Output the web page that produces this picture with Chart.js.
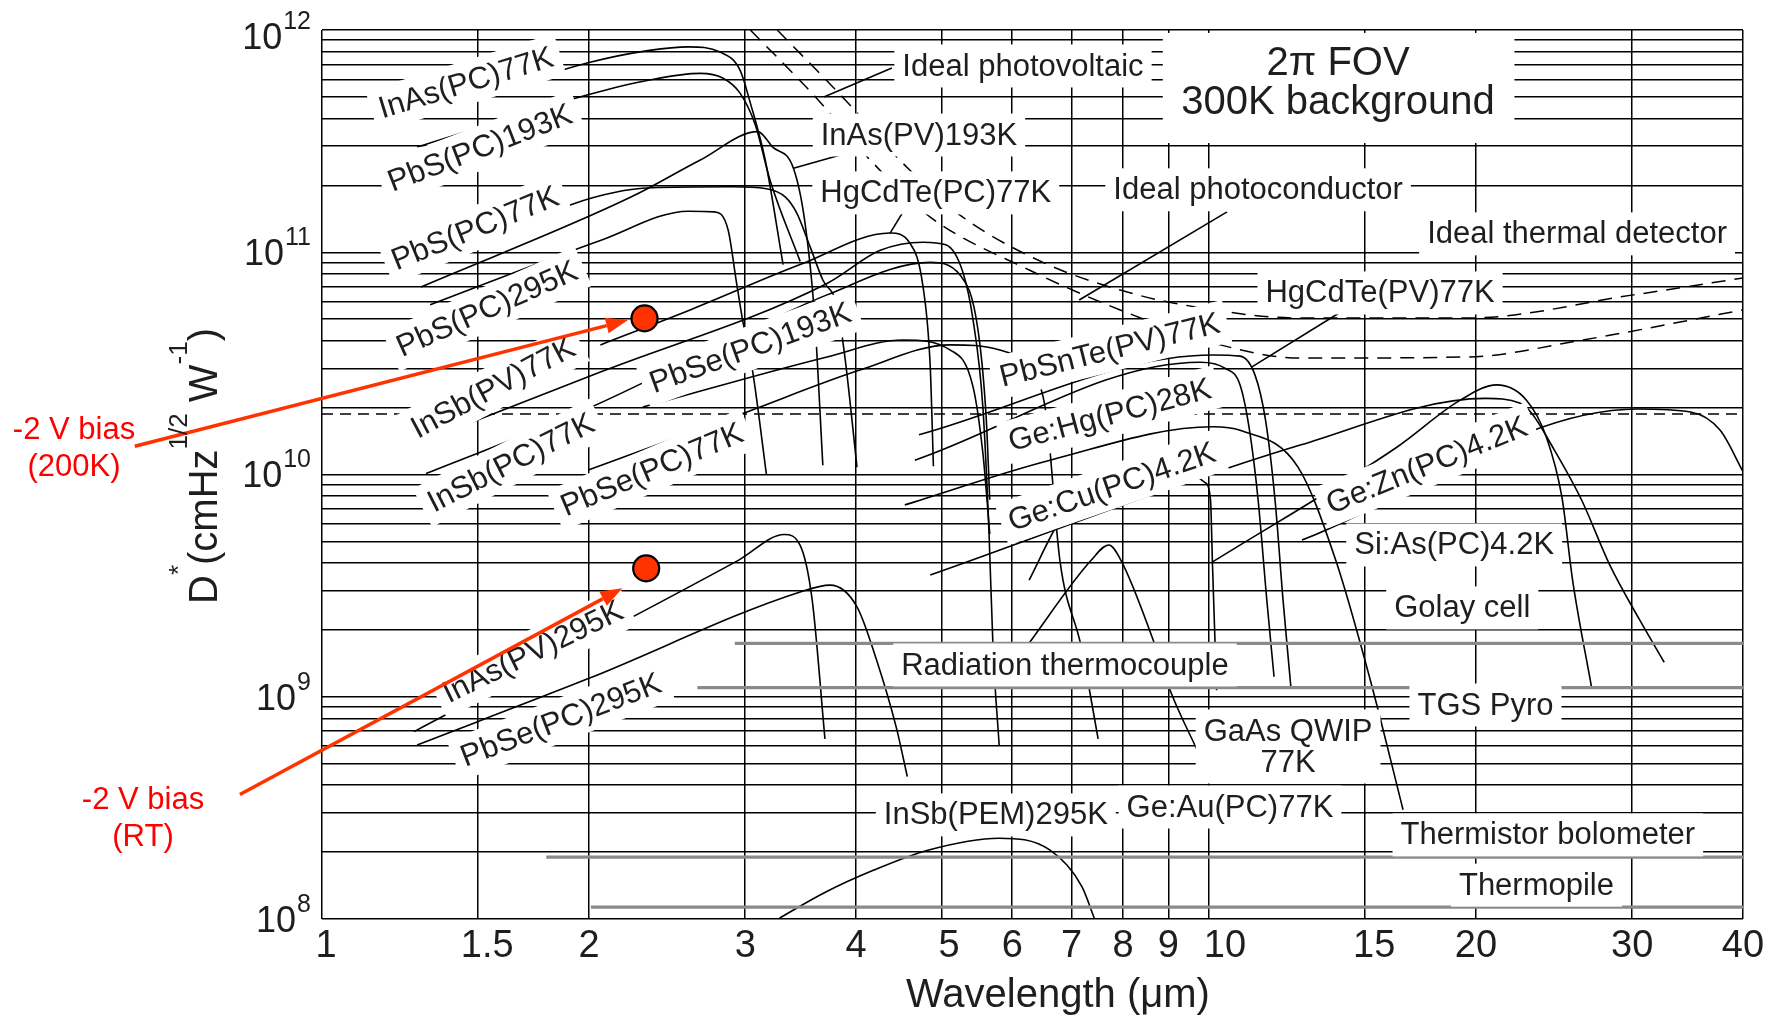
<!DOCTYPE html>
<html>
<head>
<meta charset="utf-8">
<script src="https://cdn.jsdelivr.net/npm/chart.js@4.4.1/dist/chart.umd.min.js"></script>
<style>
  html, body { margin: 0; padding: 0; background: #fff; }
  canvas { display: block; }
</style>
</head>
<body>
<canvas id="chart" width="1783" height="1021"></canvas>
<script>
// ---- axis ticks ----
const wavelengthTicks = [1, 1.5, 2, 3, 4, 5, 6, 7, 8, 9, 10, 15, 20, 30, 40];
const dstarDecades = [8, 9, 10, 11, 12];
const dstarGrid = [];
for (let e = 8; e < 12; e++) for (let m = 1; m < 10; m++) dstarGrid.push(m * Math.pow(10, e));
dstarGrid.push(1e12);

// ---- detector curves: [wavelength (um), D* (cm Hz^1/2 W^-1)] ----
const inasPC77 = [[1.28,4.0e11],[1.99,7.1e11],[2.34,8.1e11],[2.59,8.4e11],[2.81,7.96e11],[2.96,6.6e11],[3.04,4.7e11],[3.16,2.6e11],[3.31,8.8e10]];
const pbsPC193 = [[1.28,2.98e11],[1.99,5.1e11],[2.34,5.96e11],[2.67,6.38e11],[2.83,6.08e11],[2.96,5.2e11],[3.08,3.74e11],[3.20,2.11e11],[3.46,9.1e10]];
const inasPV193 = [[1.293,6.98e10],[2.236,1.78e11],[2.67,2.6e11],[3.10,3.49e11],[3.22,2.98e11],[3.40,2.39e11],[3.50,1.4e11],[3.59,5.33e10],[3.67,1.1e10]];
const pbsPC77 = [[1.28,8.5e10],[2.35,1.95e11],[2.9,1.97e11],[3.17,1.93e11],[3.33,1.77e11],[3.43,1.5e11],[3.55,1.06e11],[3.67,7.5e10],[3.81,5.7e10],[3.89,3.27e10],[4.01,1.08e10]];
const pbsPC295 = [[1.324,5.8e10],[2.06,1.13e11],[2.59,1.53e11],[2.77,1.52e11],[2.87,1.26e11],[2.93,7.5e10],[2.98,4.95e10],[3.06,2.87e10],[3.17,1.0e10]];
const hgcdtePC77 = [[2.06,3.83e10],[2.6,5.5e10],[3.46,8.8e10],[4.37,1.22e11],[4.6,1.1e11],[4.76,7.0e10],[4.85,3.05e10],[4.89,1.09e10]];
const insbPV77 = [[1.28,1.38e10],[2.06,2.89e10],[3.71,7.24e10],[4.26,1.02e11],[4.76,1.11e11],[5.05,1.08e11],[5.28,8.1e10],[5.42,4.96e10],[5.56,2.01e10],[5.65,5.4e9],[5.71,1.62e9],[5.80,6.07e8]];
const insbPC77 = [[1.31,1.01e10],[2.0,1.99e10],[2.67,3.45e10],[3.71,6.43e10],[4.85,9.0e10],[5.24,7.9e10],[5.49,4.47e10],[5.61,1.76e10],[5.66,7.7e9]];
const pbsePC193 = [[2.30,2.01e10],[3.71,3.38e10],[4.52,4.03e10],[5.11,3.63e10],[5.42,2.48e10],[5.56,1.25e10],[5.62,7.7e9],[5.66,5.4e9]];
const pbsePC77 = [[2.0,1.05e10],[2.98,1.88e10],[4.04,2.95e10],[5.11,3.83e10],[5.81,3.63e10],[6.28,2.95e10],[6.55,1.9e10],[6.79,4.12e9],[7.18,1.67e9],[7.5,6.46e8]];
const hgcdtePV77 = [[4.71,1.51e10],[10.1,3.45e10],[10.84,3.41e10],[11.27,2.8e10],[11.58,1.76e10],[11.87,7.7e9],[12.12,2.72e9],[12.37,1.1e9]];
const pbsnteV77 = [[4.66,1.16e10],[9.77,3.2e10],[10.42,3.01e10],[10.84,2.53e10],[11.11,1.58e10],[11.36,7.7e9],[11.62,2.72e9],[11.84,1.23e9]];
const geHgPC28 = [[4.54,7.3e9],[6.62,1.16e10],[10.1,1.64e10],[10.84,1.58e10],[12.6,1.08e10],[13.9,4.1e9],[15.2,1.19e9],[16.55,3.1e8]];
const geCuPC42 = [[4.85,3.53e9],[12.7,1.36e10],[20.5,2.2e10],[22.4,2.1e10],[23.1,1.89e10],[24.4,1.33e10],[26.3,7.7e9],[28.3,3.92e9],[30.6,2.21e9],[32.6,1.43e9]];
const siAsPC42 = [[10.05,4.0e9],[16.3,1.33e10],[19.2,2.16e10],[21.1,2.53e10],[22.8,2.16e10],[24.0,1.48e10],[25.0,7.9e9],[25.7,3.35e9],[27.0,1.1e9]];
const geZnPC42 = [[12.73,5.07e9],[30.4,1.97e10],[34.9,1.91e10],[37.7,1.58e10],[40,1.03e10]];
const gaasQWIP77 = [[6.27,3.35e9],[6.79,6.24e9],[7.37,9.5e9],[8.6,1.02e10],[9.5,1.0e10],[9.9,9.2e9],[10.04,7.7e9],[10.09,4.0e9],[10.2,1.07e9]];
const geAuPC77 = [[6.22,1.67e9],[7.36,4.1e9],[7.71,4.82e9],[7.96,4.1e9],[8.71,1.67e9],[9.04,1.07e9],[9.72,5.64e8]];
const inasPV295 = [[1.27,6.97e8],[2.95,4.12e9],[3.32,5.37e9],[3.46,4.8e9],[3.57,2.72e9],[3.69,6.46e8]];
const pbsePC295 = [[1.28,6.07e8],[2.0,1.21e9],[3.46,2.96e9],[3.74,3.18e9],[4.01,2.54e9],[4.22,1.46e9],[4.44,7.3e8],[4.57,4.37e8]];
const insbPEM295 = [[3.28,1.01e8],[3.68,1.31e8],[4.19,1.66e8],[4.82,2.04e8],[5.80,2.31e8],[6.62,2.04e8],[7.19,1.4e8],[7.43,1.0e8]];

// ideal background-limited detectors (2pi FOV, 300 K background)
const idealPV = [[3.26,1e12],[3.89,4.84e11],[4.48,2.6e11],[5.24,1.47e11],[6.5,9.0e10],[7.94,6.76e10],[9.35,5.8e10],[12.7,5.06e10],[19.6,5.06e10],[30.1,6.43e10],[40,7.66e10]];
const idealPC = [[3.04,1e12],[3.6,5.0e11],[4.15,2.6e11],[4.85,1.44e11],[6.28,8.3e10],[7.94,5.5e10],[10.3,3.83e10],[12.7,3.34e10],[19.6,3.38e10],[26.4,4.03e10],[40,5.5e10]];
const idealThermal = [[1,1.87e10],[40,1.87e10]];

// thermal detectors (flat response)
const golayCell = [[2.92,1.74e9],[40,1.74e9]];
const thermocouple = [[2.65,1.1e9],[40,1.1e9]];
const thermistor = [[1.79,1.9e8],[40,1.9e8]];
const thermopile = [[2.01,1.13e8],[40,1.13e8]];

// measured device points (-2 V bias at 200 K and at room temperature)
const measured = [[2.31,5.04e10],[2.32,3.78e9]];

// ---- text annotations placed in data coordinates ----
const curveLabels = [
  {t:'InAs(PC)77K', lam:1.453, d:5.78e11, rot:-17},
  {t:'PbS(PC)193K', lam:1.507, d:2.94e11, rot:-21},
  {t:'PbS(PC)77K', lam:1.488, d:1.28e11, rot:-22},
  {t:'PbS(PC)295K', lam:1.535, d:5.56e10, rot:-24},
  {t:'InSb(PV)77K', lam:1.559, d:2.45e10, rot:-28},
  {t:'InSb(PC)77K', lam:1.633, d:1.13e10, rot:-27},
  {t:'PbSe(PC)193K', lam:3.04, d:3.71e10, rot:-20},
  {t:'PbSe(PC)77K', lam:2.355, d:1.05e10, rot:-23},
  {t:'InAs(PV)295K', lam:1.729, d:1.59e9, rot:-26},
  {t:'PbSe(PC)295K', lam:1.859, d:7.85e8, rot:-21},
  {t:'PbSnTe(PV)77K', lam:7.73, d:3.63e10, rot:-14},
  {t:'Ge:Hg(PC)28K', lam:7.73, d:1.85e10, rot:-15},
  {t:'Ge:Cu(PC)4.2K', lam:7.77, d:8.79e9, rot:-19},
  {t:'Ge:Zn(PC)4.2K', lam:17.6, d:1.1e10, rot:-22},
  {t:'Si:As(PC)4.2K', lam:18.9, d:4.82e9, rot:0},
  {t:'Golay cell', lam:19.3, d:2.51e9, rot:0},
  {t:'Radiation thermocouple', lam:6.88, d:1.39e9, rot:0},
  {t:'TGS Pyro', lam:20.5, d:9.18e8, rot:0},
  {t:['GaAs QWIP','77K'], lam:12.28, d:5.97e8, rot:0},
  {t:'InSb(PEM)295K', lam:5.75, d:2.94e8, rot:0},
  {t:'Ge:Au(PC)77K', lam:10.56, d:3.19e8, rot:0},
  {t:'Thermistor bolometer', lam:24.1, d:2.39e8, rot:0},
  {t:'Thermopile', lam:23.4, d:1.42e8, rot:0},
  {t:'Ideal photovoltaic', lam:6.17, d:6.89e11, rot:0},
  {t:'InAs(PV)193K', lam:4.71, d:3.37e11, rot:0},
  {t:'HgCdTe(PC)77K', lam:4.92, d:1.85e11, rot:0},
  {t:'Ideal photoconductor', lam:11.36, d:1.91e11, rot:0},
  {t:'Ideal thermal detector', lam:26.0, d:1.21e11, rot:0},
  {t:'HgCdTe(PV)77K', lam:15.59, d:6.56e10, rot:0}
];
const leaderLines = [
  [[4.39,6.74e11],[3.68,5.0e11]],
  [[3.94,2.82e11],[3.40,2.39e11]],
  [[4.52,1.52e11],[4.37,1.22e11]],
  [[10.48,1.52e11],[7.14,6.1e10]],
  [[14.3,5.6e10],[11.18,3.05e10]]
];
const fovBox = {lam0: 8.87, lam1: 22.1, d0: 9.7e11, d1: 3.1e11};
const fovText = [
  {t:'2\u03C0 FOV', lam:13.98, d:6.27e11},
  {t:'300K background', lam:13.98, d:4.19e11}
];
const biasArrows = [
  {from:[0.615,1.34e10], to:[2.213,4.95e10]},
  {from:[0.808,3.63e8], to:[2.181,3.08e9]}
];
const biasText = [
  {lines:['-2 V bias','(200K)'], x:74, y:430},
  {lines:['-2 V bias','(RT)'], x:143, y:800}
];
// small horizontal nudges of some wavelength tick labels (px)
const tickNudge = {1: 4, 1.5: 9, 5: 7, 10: 16, 15: 9};

const FONT = '"Liberation Sans", Arial, Helvetica, sans-serif';
const TEXT = '#1e1e1e';
const toXY = arr => arr.map(([x, y]) => ({x, y}));

function curve(data, extra) {
  return Object.assign({
    data: toXY(data), borderColor: '#000', borderWidth: 1.6, pointRadius: 0,
    fill: false, cubicInterpolationMode: 'monotone'
  }, extra || {});
}
const dashed = {borderDash: [14, 9], borderWidth: 1.5, cubicInterpolationMode: 'monotone'};
const thermal = {borderColor: '#8a8a8a', borderWidth: 3.2, tension: 0};

const datasets = [
  curve(golayCell, thermal), curve(thermocouple, thermal), curve(thermistor, thermal), curve(thermopile, thermal),
  curve(idealPV, dashed), curve(idealPC, dashed), curve(idealThermal, {borderDash: [11, 7], borderWidth: 1.5, tension: 0}),
  curve(inasPC77), curve(pbsPC193), curve(inasPV193), curve(pbsPC77), curve(pbsPC295),
  curve(hgcdtePC77), curve(insbPV77), curve(insbPC77), curve(pbsePC193), curve(pbsePC77),
  curve(hgcdtePV77), curve(pbsnteV77), curve(geHgPC28), curve(geCuPC42), curve(siAsPC42), curve(geZnPC42),
  curve(gaasQWIP77), curve(geAuPC77), curve(inasPV295), curve(pbsePC295), curve(insbPEM295)
];

const px = (chart, lam, d) => ({x: chart.scales.x.getPixelForValue(lam), y: chart.scales.y.getPixelForValue(d)});

const annotations = {
  id: 'annotations',
  afterDatasetsDraw(chart) {
    const ctx = chart.ctx;
    // leader lines
    ctx.save();
    ctx.strokeStyle = '#000';
    ctx.lineWidth = 1.6;
    leaderLines.forEach(([a, b]) => {
      const p = px(chart, a[0], a[1]), q = px(chart, b[0], b[1]);
      ctx.beginPath(); ctx.moveTo(p.x, p.y); ctx.lineTo(q.x, q.y); ctx.stroke();
    });
    ctx.restore();

    // labels with white backing
    curveLabels.forEach(L => {
      const p = px(chart, L.lam, L.d);
      const lines = Array.isArray(L.t) ? L.t : [L.t];
      ctx.save();
      ctx.translate(p.x, p.y);
      ctx.rotate((L.rot || 0) * Math.PI / 180);
      ctx.font = '31px ' + FONT;
      const w = Math.max(...lines.map(s => ctx.measureText(s).width));
      const lh = 31, h = lines.length * lh;
      ctx.fillStyle = '#fff';
      ctx.fillRect(-w / 2 - 8, -h / 2 - 6, w + 16, h + 12);
      ctx.fillStyle = TEXT;
      ctx.textAlign = 'center';
      ctx.textBaseline = 'middle';
      lines.forEach((s, i) => ctx.fillText(s, 0, -h / 2 + lh * (i + 0.5) + 1));
      ctx.restore();
    });

    // field-of-view note
    const b0 = px(chart, fovBox.lam0, fovBox.d0), b1 = px(chart, fovBox.lam1, fovBox.d1);
    ctx.save();
    ctx.fillStyle = '#fff';
    ctx.fillRect(b0.x, b0.y, b1.x - b0.x, b1.y - b0.y);
    ctx.fillStyle = TEXT;
    ctx.font = '40px ' + FONT;
    ctx.textAlign = 'center';
    ctx.textBaseline = 'alphabetic';
    fovText.forEach(T => { const p = px(chart, T.lam, T.d); ctx.fillText(T.t, p.x, p.y); });
    ctx.restore();

    // bias arrows
    ctx.save();
    ctx.strokeStyle = '#ff3300';
    ctx.fillStyle = '#ff3300';
    ctx.lineWidth = 3.5;
    biasArrows.forEach(A => {
      const p = px(chart, A.from[0], A.from[1]), q = px(chart, A.to[0], A.to[1]);
      const ang = Math.atan2(q.y - p.y, q.x - p.x);
      const hl = 22, hw = 8;
      const bx = q.x - hl * Math.cos(ang), by = q.y - hl * Math.sin(ang);
      ctx.beginPath(); ctx.moveTo(p.x, p.y); ctx.lineTo(bx, by); ctx.stroke();
      ctx.beginPath();
      ctx.moveTo(q.x, q.y);
      ctx.lineTo(bx + hw * Math.sin(ang), by - hw * Math.cos(ang));
      ctx.lineTo(bx - hw * Math.sin(ang), by + hw * Math.cos(ang));
      ctx.closePath(); ctx.fill();
    });
    ctx.fillStyle = '#ff0000';
    ctx.font = '31px ' + FONT;
    ctx.textAlign = 'center';
    ctx.textBaseline = 'middle';
    biasText.forEach(T => T.lines.forEach((s, i) => ctx.fillText(s, T.x, T.y + i * 37)));
    ctx.restore();

    // measured points drawn on top
    ctx.save();
    measured.forEach(([l, d]) => {
      const p = px(chart, l, d);
      ctx.beginPath(); ctx.arc(p.x, p.y, 13, 0, Math.PI * 2);
      ctx.fillStyle = '#ff3300'; ctx.fill();
      ctx.lineWidth = 2.2; ctx.strokeStyle = '#000'; ctx.stroke();
    });
    ctx.restore();
  },
  afterDraw(chart) {
    const ctx = chart.ctx, area = chart.chartArea;
    const sx = chart.scales.x, sy = chart.scales.y;
    ctx.save();
    ctx.fillStyle = TEXT;
    // wavelength tick labels
    ctx.font = '38px ' + FONT;
    ctx.textAlign = 'center';
    ctx.textBaseline = 'middle';
    wavelengthTicks.forEach(v => ctx.fillText(String(v), sx.getPixelForValue(v) + (tickNudge[v] || 0), area.bottom + 28));
    // D* decade labels with superscript exponent
    dstarDecades.forEach(e => {
      const y = sy.getPixelForValue(Math.pow(10, e)) + (e === 12 ? 9 : 3);
      const right = area.left - 11;
      ctx.font = '25px ' + FONT;
      const sw = ctx.measureText(String(e)).width;
      ctx.textAlign = 'left';
      ctx.fillText(String(e), right - sw, y - 17);
      ctx.textAlign = 'right';
      ctx.font = '36px ' + FONT;
      ctx.fillText('10', right - sw - 1, y);
    });
    // x title
    ctx.font = '40px ' + FONT;
    ctx.textAlign = 'center';
    ctx.textBaseline = 'alphabetic';
    ctx.fillText('Wavelength (\u03BCm)', 1058, area.bottom + 88);
    // y title, rotated, with superscripts
    const parts = [
      {t:'D', s:40, up:0}, {t:'*', s:26, up:30}, {t:'(cmHz', s:40, up:0},
      {t:'1/2', s:26, up:30}, {t:' W', s:40, up:0}, {t:'-1', s:26, up:30}, {t:')', s:40, up:0}
    ];
    let total = 0;
    parts.forEach(p => { ctx.font = p.s + 'px ' + FONT; p.w = ctx.measureText(p.t).width; total += p.w; });
    ctx.translate(area.left - 105, 466);
    ctx.rotate(-Math.PI / 2);
    ctx.textAlign = 'left';
    let x0 = -total / 2;
    parts.forEach(p => { ctx.font = p.s + 'px ' + FONT; ctx.fillText(p.t, x0, -p.up); x0 += p.w; });
    ctx.restore();
  }
};

new Chart(document.getElementById('chart'), {
  type: 'line',
  data: { datasets },
  options: {
    responsive: false,
    animation: false,
    devicePixelRatio: 1,
    layout: { padding: { left: 322, right: 40, top: 30, bottom: 102 } },
    plugins: { legend: { display: false }, tooltip: { enabled: false } },
    scales: {
      x: {
        type: 'logarithmic', min: 1, max: 40,
        afterBuildTicks: s => { s.ticks = wavelengthTicks.map(v => ({value: v})); },
        afterFit: s => { s.height = 0; },
        ticks: { display: false },
        grid: { color: '#000', lineWidth: 1.5, drawTicks: false },
        border: { display: false }
      },
      y: {
        type: 'logarithmic', min: 1e8, max: 1e12,
        afterBuildTicks: s => { s.ticks = dstarGrid.map(v => ({value: v})); },
        afterFit: s => { s.width = 0; },
        ticks: { display: false },
        grid: { color: '#000', lineWidth: 1.5, drawTicks: false },
        border: { display: false }
      }
    }
  },
  plugins: [annotations]
});
</script>
</body>
</html>
